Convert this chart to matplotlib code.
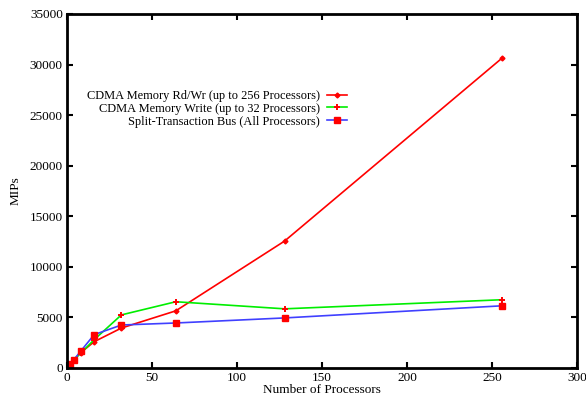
import matplotlib.pyplot as plt
import numpy as np

procs = [1, 2, 4, 8, 16, 32, 64, 128, 256]
cdma_rdwr = [200, 400, 800, 1500, 2600, 3950, 5650, 12550, 30650]
cdma_write = [200, 400, 800, 1450, 2800, 5250, 6550, 5850, 6750]
split_bus = [200, 400, 800, 1650, 3300, 4250, 4450, 4950, 6150]

plt.rcParams['font.family'] = ['Liberation Serif', 'DejaVu Serif']

fig = plt.figure(figsize=(5.86, 4.0), dpi=100)
ax = fig.add_axes([0.1143, 0.08, 0.8703, 0.885])

ax.plot(procs, cdma_rdwr, color='#ff0000', lw=1.2, marker='D', ms=2.5,
        mfc='#ff0000', mec='#ff0000', label='CDMA Memory Rd/Wr (up to 256 Processors)')
ax.plot(procs, cdma_write, color='#00ee00', lw=1.2, marker='+', ms=4.5, mew=1.4,
        mfc='#ff0000', mec='#ff0000', label='CDMA Memory Write (up to 32 Processors)')
ax.plot(procs, split_bus, color='#4040ff', lw=1.2, marker='s', ms=3.8,
        mfc='#ff0000', mec='#ff0000', label='Split-Transaction Bus (All Processors)')

ax.set_xlim(0, 300)
ax.set_ylim(0, 35000)
ax.set_xticks(np.arange(0, 301, 50))
ax.set_yticks(np.arange(0, 35001, 5000))
ax.tick_params(direction='in', length=4, width=1.5, top=True, right=True,
               labelsize=9.5, pad=3)
for s in ax.spines.values():
    s.set_linewidth(2)

ax.set_xlabel('Number of Processors', fontsize=9.5, labelpad=0)
ax.set_ylabel('MIPs', fontsize=9.5, labelpad=6)

leg = ax.legend(loc='upper right', bbox_to_anchor=(0.561, 0.803), frameon=False,
                markerfirst=False, fontsize=8.9, handlelength=1.6, handletextpad=0.6,
                labelspacing=0.07, borderpad=0)
for t in leg.get_texts():
    t.set_ha('right')
leg._legend_box.align = 'right'

fig.savefig('out.png', dpi=100)
